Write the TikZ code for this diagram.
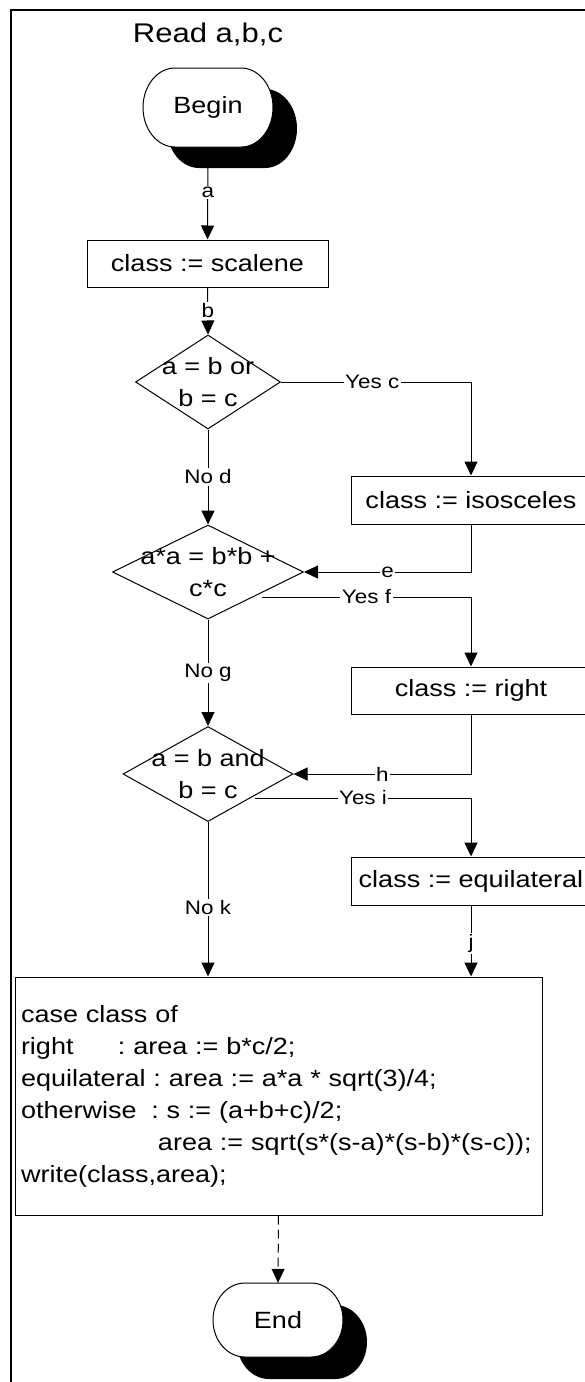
\documentclass[tikz,border=0pt]{standalone}
\usepackage{fontspec}
\setmainfont{Liberation Sans}[FakeStretch=1.15]
\usetikzlibrary{arrows.meta,shapes.geometric}
\newcommand{\mainsize}{\fontsize{23.5}{32}\selectfont}
\newcommand{\lblsize}{\fontsize{19.5}{23}\selectfont}
\newcommand{\titlesize}{\fontsize{27}{32}\selectfont}
% terminal outline: #1 cx, #2 cy, #3 half width, #4 half height, #5 horizontal corner radius
\newcommand{\termshape}[5]{(#1-#3,#2) .. controls (#1-#3,#2-0.552*#4) and (#1-#3+0.448*#5,#2-#4) .. (#1-#3+#5,#2-#4)
 -- (#1+#3-#5,#2-#4) .. controls (#1+#3-0.448*#5,#2-#4) and (#1+#3,#2-0.552*#4) .. (#1+#3,#2)
 .. controls (#1+#3,#2+0.552*#4) and (#1+#3-0.448*#5,#2+#4) .. (#1+#3-#5,#2+#4)
 -- (#1-#3+#5,#2+#4) .. controls (#1-#3+0.448*#5,#2+#4) and (#1-#3,#2+0.552*#4) .. cycle}
\begin{document}
\frenchspacing
\begin{tikzpicture}[x=1pt,y=-1pt,
  box/.style={draw, line width=1pt, minimum width=241pt, minimum height=47pt, inner sep=0pt, font=\mainsize},
  rbox/.style={box, minimum width=240pt, minimum height=48pt},
  dia/.style={draw, diamond, line width=1pt, inner sep=0pt, aspect=1},
  dtext/.style={align=center, font=\mainsize, inner sep=0pt},
  term/.style={minimum width=130pt, minimum height=79pt, inner sep=0pt, font=\mainsize},
  termline/.style={draw, line width=1pt, fill=white},
  termshadow/.style={fill=black},
  lbl/.style={fill=white, inner sep=1.5pt, font=\lblsize},
  flow/.style={line width=1pt, -{Triangle[length=14pt,width=13pt]}},
  casebox/.style={draw, line width=1pt, minimum width=527pt, minimum height=238pt, text width=515pt, align=left, inner xsep=6pt, inner ysep=0pt, font=\mainsize},
]
\useasboundingbox (0,0) rectangle (585,1382);
\clip (0,0) rectangle (585,1382);
\fill[white] (0,0) rectangle (585,1382);
% frame
\draw[line width=2.2pt] (585,10) -- (11,10) -- (11,1382);
% title
\node[font=\titlesize, inner sep=0pt] (title) at (208,34) {Read a,b,c};
% terminals
\path[termshadow] \termshape{232}{128.5}{65}{39.5}{32};
\path[termline] \termshape{208}{107.5}{65}{39.5}{32};
\node[term] (begin) at (208,107.5) {Begin};
\path[termshadow] \termshape{302}{1342}{65}{37}{32};
\path[termline] \termshape{278}{1320}{65}{37}{32};
\node[term, minimum height=74pt] (end) at (278,1320) {End};
% boxes
\node[box] (scal) at (207.5,263.5) {class := scalene};
\node[rbox] (iso) at (471,500) {class := isosceles};
\node[rbox, minimum height=47pt] (rt) at (471,690.5) {class := right};
\node[rbox] (eq) at (471,881) {class := equilateral};
% diamonds
\node[dia, minimum width=145pt, minimum height=94pt] (d1) at (208,382) {};
\node[dtext] (t1) at (d1.center) {a = b or\\b = c};
\node[dia, minimum width=191pt, minimum height=94pt] (d2) at (208,572) {};
\node[dtext] (t2) at (d2.center) {a*a = b*b +\\c*c};
\node[dia, minimum width=170pt, minimum height=95pt] (d3) at (208,774) {};
\node[dtext] (t3) at (d3.center) {a = b and\\b = c};
% case box
\node[casebox] (cs) at (278.5,1096) {case class of\\
\makebox[97pt][l]{right}: area := b*c/2;\\
equilateral : area := a*a * sqrt(3)/4;\\
\makebox[130.3pt][l]{otherwise}: s := (a+b+c)/2;\\
\hspace*{137pt}area := sqrt(s*(s-a)*(s-b)*(s-c));\\
write(class,area);};
% connectors
\draw[flow] (begin.south) -- node[lbl,pos=.49]{a} (scal.north);
\draw[flow] (scal.south) -- node[lbl,pos=.5]{b} (d1.north);
\draw[flow] (d1.east) -| node[lbl,pos=.24]{Yes c} (iso.north);
\draw[flow] (d1.south) -- node[lbl]{No d} (d2.north);
\draw[flow] (iso.south) |- node[lbl,pos=.75]{e} (d2.east);
\coordinate (f0) at (262,597);
\draw[flow] (f0) -| node[lbl,pos=.25]{Yes f} (rt.north);
\draw[flow] (d2.south) -- node[lbl]{No g} (d3.north);
\draw[flow] (rt.south) |- node[lbl,pos=.75]{h} (d3.east);
\coordinate (i0) at (255,798);
\draw[flow] (i0) -| node[lbl,pos=.25]{Yes i} (eq.north);
\draw[flow] (d3.south) -- node[lbl,pos=.555]{No k} (d3.south |- cs.north);
\draw[flow] (eq.south) -- node[lbl,pos=.53]{j} (eq.south |- cs.north);
\draw[flow, dash pattern=on 9pt off 5pt] (cs.south) -- (end.north);
\end{tikzpicture}
\end{document}
